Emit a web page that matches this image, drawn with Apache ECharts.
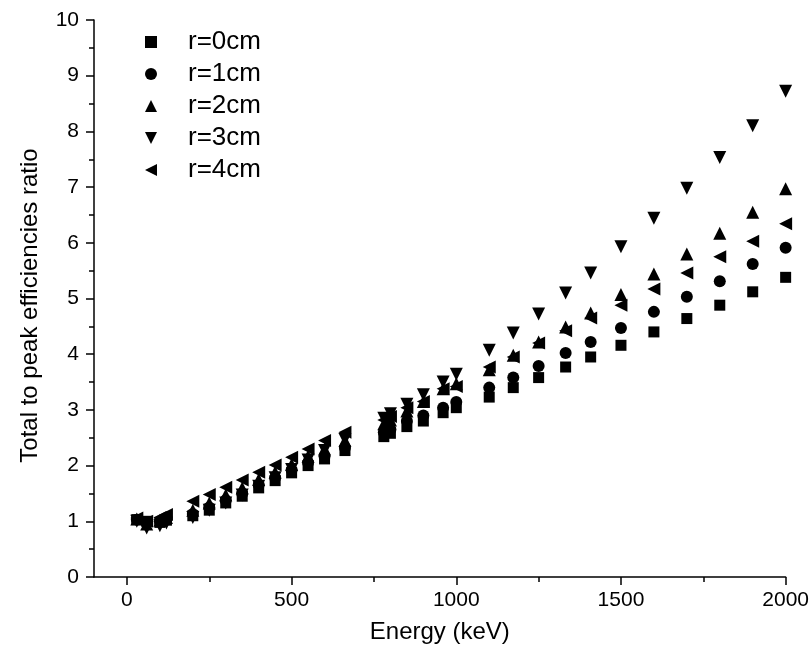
<!DOCTYPE html>
<html>
<head>
<meta charset="utf-8">
<script src="https://cdn.jsdelivr.net/npm/echarts@6/dist/echarts.min.js"></script>
<style>
html,body{margin:0;padding:0;background:#fff;}
#chart{width:812px;height:660px;}
</style>
</head>
<body>
<div id="chart"></div>
<script>
const energies = [30, 60, 100, 120, 200, 250, 300, 350, 400, 450, 500, 550, 600, 662, 780, 800, 850, 900, 960, 1000, 1100, 1173, 1250, 1332, 1408, 1500, 1600, 1700, 1800, 1900, 2000];
const r0 = [1.03, 1.00, 0.98, 1.02, 1.10, 1.20, 1.33, 1.45, 1.60, 1.73, 1.87, 2.00, 2.12, 2.27, 2.52, 2.58, 2.70, 2.80, 2.95, 3.04, 3.23, 3.40, 3.58, 3.77, 3.95, 4.16, 4.40, 4.64, 4.88, 5.12, 5.38];
const r1 = [1.03, 0.97, 1.00, 1.04, 1.13, 1.25, 1.38, 1.50, 1.65, 1.78, 1.92, 2.05, 2.17, 2.32, 2.60, 2.65, 2.80, 2.90, 3.04, 3.14, 3.40, 3.58, 3.79, 4.02, 4.22, 4.47, 4.76, 5.03, 5.31, 5.62, 5.91];
const r2 = [1.04, 0.95, 1.02, 1.07, 1.20, 1.33, 1.47, 1.60, 1.75, 1.88, 2.02, 2.17, 2.30, 2.45, 2.75, 2.82, 2.98, 3.15, 3.38, 3.47, 3.72, 3.98, 4.22, 4.49, 4.74, 5.07, 5.44, 5.80, 6.17, 6.55, 6.97];
const r3 = [1.00, 0.88, 0.92, 0.97, 1.07, 1.20, 1.33, 1.47, 1.63, 1.78, 1.93, 2.10, 2.27, 2.47, 2.85, 2.93, 3.10, 3.27, 3.50, 3.64, 4.07, 4.38, 4.72, 5.10, 5.46, 5.93, 6.44, 6.98, 7.53, 8.10, 8.72];
const r4 = [1.06, 1.00, 1.07, 1.12, 1.36, 1.48, 1.61, 1.74, 1.88, 2.01, 2.15, 2.30, 2.45, 2.60, 2.82, 2.88, 3.04, 3.15, 3.38, 3.42, 3.77, 3.95, 4.20, 4.42, 4.65, 4.88, 5.17, 5.46, 5.75, 6.03, 6.34];
const seriesNames = ['r=0cm', 'r=1cm', 'r=2cm', 'r=3cm', 'r=4cm'];
const xMajorTicks = [0, 500, 1000, 1500, 2000];
const xMinorTicks = [250, 750, 1250, 1750];
const xTitle = 'Energy (keV)';
const yTitle = 'Total to peak efficiencies ratio';

const SQUARE = 'path://M0,0L10,0L10,10L0,10Z';
const UP = 'path://M5,0L10,10L0,10Z';
const DOWN = 'path://M0,0L10,0L5,10Z';
const LEFT = 'path://M10,0L10,10L0,5Z';
const symbols = [SQUARE, 'circle', UP, DOWN, LEFT];
const sizes = [11, 12, 13, 13, 13];
const allVals = [r0, r1, r2, r3, r4];
const FONT = 'Liberation Sans, Arial, sans-serif';

const chart = echarts.init(document.getElementById('chart'), null, {renderer: 'canvas'});
const series = allVals.map((vals, k) => ({
  name: seriesNames[k],
  type: 'scatter',
  xAxisIndex: 0,
  yAxisIndex: 0,
  symbol: symbols[k],
  symbolSize: sizes[k],
  symbolKeepAspect: true,
  itemStyle: {color: '#000', opacity: 1},
  emphasis: {disabled: true},
  data: energies.map((e, i) => [e, vals[i]])
}));

chart.setOption({
  animation: false,
  backgroundColor: '#fff',
  textStyle: {fontFamily: FONT},
  grid: {left: 94, right: 26, top: 20, bottom: 83, containLabel: false},
  legend: {
    orient: 'vertical',
    left: 145,
    top: 28,
    padding: 0,
    itemWidth: 64,
    itemHeight: 12,
    itemGap: 4,
    symbolKeepAspect: true,
    textStyle: {fontSize: 26, color: '#000', fontFamily: FONT, lineHeight: 28},
    data: seriesNames.map((n, k) => ({name: n, icon: symbols[k]}))
  },
  xAxis: [{
    type: 'value',
    min: -100,
    max: 2000,
    name: xTitle,
    nameLocation: 'middle',
    nameGap: 43,
    nameTextStyle: {fontSize: 24, color: '#000', fontFamily: FONT},
    splitLine: {show: false},
    axisLine: {show: true, onZero: false, lineStyle: {color: '#000', width: 1.5}},
    axisTick: {show: true, inside: false, length: 8, customValues: xMajorTicks, lineStyle: {color: '#000', width: 1.5}},
    axisLabel: {show: true, customValues: xMajorTicks, margin: 13, fontSize: 21, color: '#000', fontFamily: FONT,
      formatter: v => String(v)}
  }, {
    type: 'value',
    min: -100,
    max: 2000,
    position: 'bottom',
    splitLine: {show: false},
    axisLine: {show: false},
    axisTick: {show: true, inside: false, length: 5, customValues: xMinorTicks, lineStyle: {color: '#000', width: 1.5}},
    axisLabel: {show: false}
  }],
  yAxis: {
    type: 'value',
    min: 0,
    max: 10,
    interval: 1,
    name: yTitle,
    nameLocation: 'middle',
    nameGap: 52,
    nameTextStyle: {fontSize: 24, color: '#000', fontFamily: FONT, padding: [0, 14, 0, 0]},
    splitLine: {show: false},
    axisLine: {show: true, onZero: false, lineStyle: {color: '#000', width: 1.5}},
    axisTick: {show: true, inside: false, length: 8, lineStyle: {color: '#000', width: 1.5}},
    minorTick: {show: true, splitNumber: 2, length: 5, lineStyle: {color: '#000', width: 1.5}},
    minorSplitLine: {show: false},
    axisLabel: {margin: 15, fontSize: 21, color: '#000', fontFamily: FONT, formatter: v => String(v)}
  },
  series: series
});
</script>
</body>
</html>
